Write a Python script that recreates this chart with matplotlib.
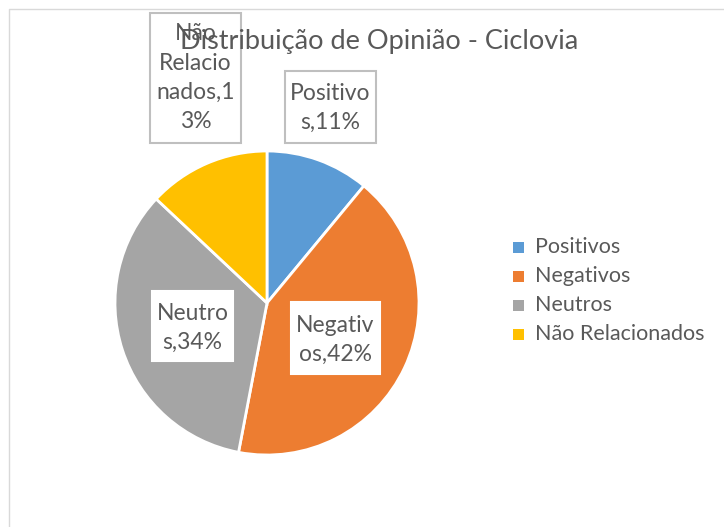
import matplotlib
matplotlib.use("Agg")
import matplotlib.pyplot as plt
from matplotlib.patches import Rectangle

# data
categories = ["Positivos", "Negativos", "Neutros", "Não Relacionados"]
values = [11, 42, 34, 13]
colors = ["#5B9BD5", "#ED7D31", "#A5A5A5", "#FFC000"]
label_lines = [["Positivo", "s,11%"], ["Negativ", "os,42%"],
               ["Neutro", "s,34%"], ["Não", "Relacio", "nados,1", "3%"]]
title = "Distribuição de Opinião - Ciclovia"

# layout (pixel units, y measured from the top)
W, H = 724, 527
center = (267, 303)
radius = 152
# label boxes: x0, y0 (top), x1, y1 (bottom), first line y, bordered?
boxes = [(285, 71, 376, 143, 93, True),
         (291, 302, 380, 374, 325, False),
         (152, 291, 233, 361, 313, False),
         (150, 13, 241, 143, 34, True)]
line_gap = 29
txt = "#595959"
font = "Lato"

fig = plt.figure(figsize=(W / 100, H / 100), dpi=100)
ax = fig.add_axes([0, 0, 1, 1])

ax.pie(values, colors=colors, startangle=90, counterclock=False,
       center=(center[0], H - center[1]), radius=radius, frame=True,
       wedgeprops=dict(edgecolor="white", linewidth=2))
ax.set_xlim(0, W)
ax.set_ylim(0, H)
ax.axis("off")

# chart frame
ax.plot([9, 9, W], [0, H - 9, H - 9], color="#d9d9d9", lw=1)

for (x0, y0, x1, y1, ly, border), lines in zip(boxes, label_lines):
    ax.add_patch(Rectangle((x0, H - y1), x1 - x0, y1 - y0, facecolor="white",
                           edgecolor="#bfbfbf" if border else "white", lw=1.5, zorder=3))
    xc = (x0 + x1) / 2
    for i, s in enumerate(lines):
        ax.text(xc, H - (ly + i * line_gap), s, ha="center", va="center",
                fontsize=16.5, color=txt, family=font, zorder=4)

ax.text(379, H - 42, title, ha="center", va="center", fontsize=19.5,
        color=txt, family=font, zorder=5)

# legend
for i, (c, name) in enumerate(zip(colors, categories)):
    y = H - (247 + i * 29)
    ax.add_patch(Rectangle((513, y - 5.5), 11, 11, facecolor=c, edgecolor="none"))
    ax.text(535, y, name, ha="left", va="center", fontsize=15.5,
            color=txt, family=font)

fig.savefig("out.png", dpi=100)
